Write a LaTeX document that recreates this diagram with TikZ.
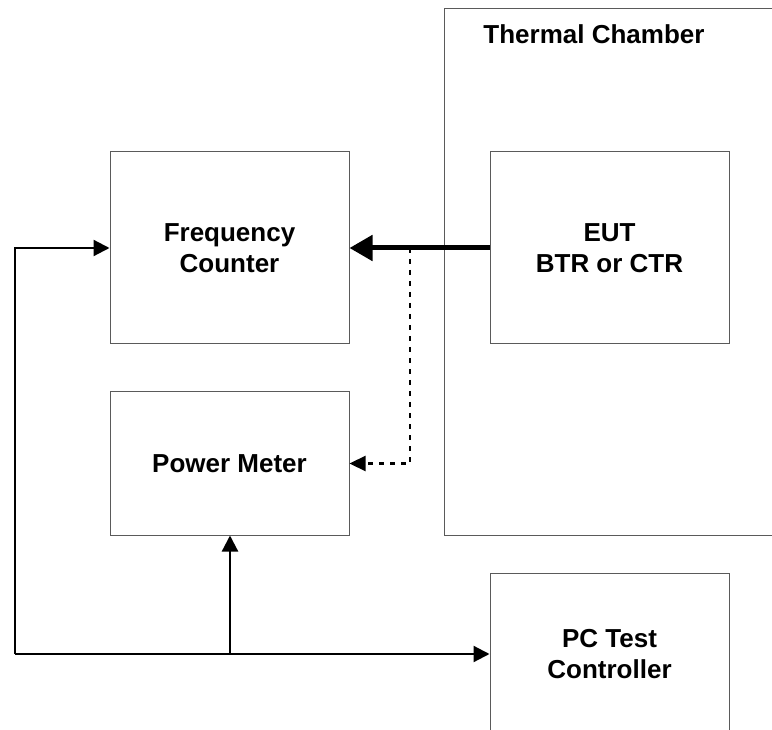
\documentclass[tikz,border=0pt]{standalone}
\usepackage{fontspec}
\setmainfont{Liberation Sans}
\usepackage{tikz}
\usetikzlibrary{calc,arrows.meta,positioning}
\definecolor{boxGray}{RGB}{90,90,90}
\definecolor{lineBlack}{RGB}{0,0,0}

\begin{document}
\begin{tikzpicture}[x=1pt, y=-1pt,
  unitbox/.style={draw=boxGray, line width=1pt, minimum width=239pt, inner sep=0pt},
  lbl/.style={font=\fontsize{26}{31}\selectfont\bfseries, align=center},
  wire/.style={lineBlack, line width=2.2pt, -{Triangle[length=16pt,width=16pt]}},
  rfwire/.style={lineBlack, line width=5pt, -{Triangle[length=23pt,width=25pt]}},
  probe/.style={lineBlack, line width=2.2pt, dash pattern=on 5pt off 6pt, -{Triangle[length=16pt,width=15pt]}}]
\clip (0,0) rectangle (772,730);
\useasboundingbox (0,0) rectangle (772,730);
% thermal chamber, open to the right
\node[unitbox, minimum width=360pt, minimum height=526pt] (chamber) at (624,272) {};
\node[lbl] (chambertitle) at (594,34) {Thermal Chamber};
% equipment
\node[unitbox, minimum height=192pt, lbl] (counter) at (229.5,248) {Frequency\\Counter};
\node[unitbox, minimum height=143pt, lbl] (meter) at (229.5,463.5) {Power Meter};
\node[unitbox, minimum height=192pt, lbl] (eut) at (609.5,248) {EUT\\BTR or CTR};
\node[unitbox, minimum height=190pt] (pc) at (609.5,668) {};
\node[lbl] (pctitle) at (609.5,654) {PC Test\\Controller};
% junctions
\coordinate (tap) at (410,248);
\coordinate (corner) at (15,654);
\coordinate (branch) at (230,654);
% connections
\draw[rfwire] (eut.west) -- (counter.east);
\draw[probe] (tap) |- (meter.east);
\draw[wire] (corner) |- (counter.west);
\draw[wire] (corner) -- (pc.west |- pctitle);
\draw[wire] (branch) -- (branch |- meter.south);
\end{tikzpicture}
\end{document}
